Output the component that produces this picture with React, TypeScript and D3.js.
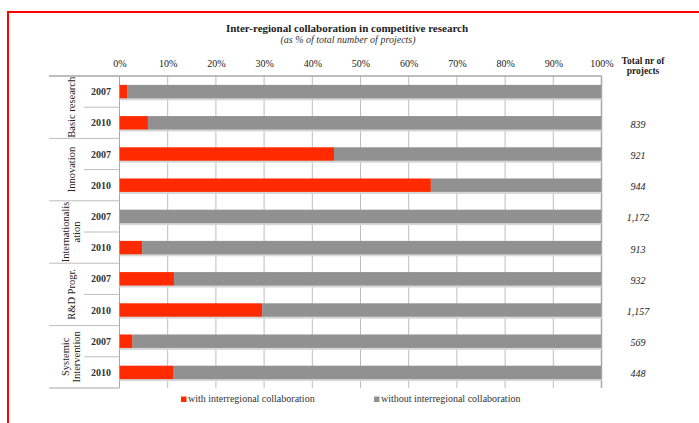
import React from 'react';
import { useRef, useEffect } from 'react';
import * as d3 from 'd3';

// group labels (split over lines as in the original), years and values
const groupLabels: string[][] = [
  ["Basic research"],
  ["Innovation"],
  ["Internationalis", "ation"],
  ["R&D Progr."],
  ["Systemic", "Intervention"],
];
const years = ["2007", "2010"];
// % of projects with interregional collaboration, row by row
const withCollab = [1.6, 5.9, 44.5, 64.6, 0, 4.7, 11.3, 29.6, 2.7, 11.1];
const totals = ["", "839", "921", "944", "1,172", "913", "932", "1,157", "569", "448"];
const tickValues = [0, 10, 20, 30, 40, 50, 60, 70, 80, 90, 100];
const seriesNames = ["with interregional collaboration", "without interregional collaboration"];

const chartStyle = {
  fontFamily: "'Liberation Serif', 'DejaVu Serif', serif",
  red: "#ff2a00",
  gray: "#919191",
  gridColor: "#bdbdbd",
  textColor: "#222",
  border: "#ff0000",
};

const App: React.FC = () => {
  const svgRef = useRef<SVGSVGElement>(null);
  const width = 699;
  const height = 423;

  useEffect(() => {
    if (!svgRef.current) return;
    const svg = d3.select(svgRef.current);
    svg.selectAll("*").remove();

    const plotLeft = 119.5, plotRight = 601.5, plotTop = 76, plotBottom = 388;
    const tableLeft = 49, yearLeft = 84;

    const rows = d3.range(withCollab.length);
    const xScale = d3.scaleLinear().domain([0, 100]).range([plotLeft, plotRight]);
    const yScale = d3.scaleBand<number>().domain(rows).range([plotTop, plotBottom]).paddingInner(0.57).paddingOuter(0.285);
    const rowBand = (plotBottom - plotTop) / rows.length;
    const rowCenter = (i: number) => yScale(i)! + yScale.bandwidth() / 2;

    // red frame
    svg.append("rect")
      .attr("x", 8).attr("y", 12)
      .attr("width", 720).attr("height", 440)
      .attr("fill", "none")
      .attr("stroke", chartStyle.border)
      .attr("stroke-width", 2);

    // title
    svg.append("text")
      .attr("x", 347).attr("y", 32)
      .attr("text-anchor", "middle")
      .style("font-family", chartStyle.fontFamily)
      .style("font-size", "11px")
      .style("font-weight", "bold")
      .attr("fill", chartStyle.textColor)
      .text("Inter-regional collaboration in competitive research");
    svg.append("text")
      .attr("x", 348).attr("y", 43)
      .attr("text-anchor", "middle")
      .style("font-family", chartStyle.fontFamily)
      .style("font-size", "10px")
      .style("font-style", "italic")
      .attr("fill", "#333")
      .text("(as % of total number of projects)");

    // x axis labels on top
    const xAxis = d3.axisTop<number>(xScale)
      .tickValues(tickValues)
      .tickSize(0)
      .tickPadding(0)
      .tickFormat(d => `${d}%`);
    svg.append("g")
      .attr("transform", `translate(0, ${plotTop - 9})`)
      .call(xAxis)
      .call(g => g.select(".domain").remove())
      .selectAll("text")
      .style("font-family", chartStyle.fontFamily)
      .style("font-size", "10px")
      .attr("fill", chartStyle.textColor);

    // gridlines
    svg.append("g").selectAll("line")
      .data(tickValues)
      .join("line")
      .attr("x1", d => xScale(d)).attr("x2", d => xScale(d))
      .attr("y1", plotTop).attr("y2", plotBottom)
      .attr("stroke", d => d === 0 || d === 100 ? "#a8a8a8" : chartStyle.gridColor)
      .attr("stroke-width", d => d === 100 ? 1.5 : 1);

    // top rule
    svg.append("line")
      .attr("x1", tableLeft).attr("x2", plotRight)
      .attr("y1", plotTop).attr("y2", plotTop)
      .attr("stroke", "#a8a8a8").attr("stroke-width", 1.5);

    // table separators
    const table = svg.append("g");
    rows.forEach(i => {
      if (i === 0) return;
      const y = plotTop + i * rowBand;
      table.append("line")
        .attr("x1", i % 2 === 0 ? tableLeft : yearLeft).attr("x2", plotLeft)
        .attr("y1", y).attr("y2", y)
        .attr("stroke", chartStyle.gridColor);
    });
    table.append("line")
      .attr("x1", tableLeft).attr("x2", plotLeft)
      .attr("y1", plotBottom).attr("y2", plotBottom)
      .attr("stroke", "#a8a8a8");

    // year labels
    svg.append("g").selectAll("text")
      .data(rows)
      .join("text")
      .attr("x", 101)
      .attr("y", i => rowCenter(i) + 3.5)
      .attr("text-anchor", "middle")
      .style("font-family", chartStyle.fontFamily)
      .style("font-size", "10px")
      .style("font-weight", "bold")
      .attr("fill", "#333")
      .text(i => years[i % 2]);

    // group labels, rotated
    groupLabels.forEach((lines, gi) => {
      const cy = plotTop + (gi * 2 + 1) * rowBand;
      const cx = 71;
      const t = svg.append("text")
        .attr("transform", `translate(${cx}, ${cy}) rotate(-90)`)
        .attr("text-anchor", "middle")
        .style("font-family", chartStyle.fontFamily)
        .style("font-size", "10.5px")
        .attr("fill", chartStyle.textColor);
      lines.forEach((ln, li) => {
        const offset = (li - (lines.length - 1) / 2) * 11.5 + 3.5;
        t.append("tspan").attr("x", 0).attr("y", offset).text(ln);
      });
    });

    // bar shadows
    svg.append("g").selectAll("rect")
      .data(rows)
      .join("rect")
      .attr("x", xScale(0))
      .attr("y", i => yScale(i)! + 2)
      .attr("width", xScale(100) - xScale(0))
      .attr("height", yScale.bandwidth())
      .attr("fill", "#d6d6d6");

    // stacked bars
    const barData = rows.map(i => ({ row: i, w: withCollab[i], wo: 100 - withCollab[i] }));
    const stack = d3.stack<{ row: number, w: number, wo: number }>().keys(["w", "wo"]);
    const series = stack(barData);
    const colors = [chartStyle.red, chartStyle.gray];
    svg.append("g").selectAll("g")
      .data(series)
      .join("g")
      .attr("fill", (_, k) => colors[k])
      .selectAll("rect")
      .data(s => s)
      .join("rect")
      .attr("x", d => xScale(d[0]))
      .attr("y", d => yScale(d.data.row)!)
      .attr("width", d => xScale(d[1]) - xScale(d[0]))
      .attr("height", yScale.bandwidth());

    // totals column
    const totalX = 643;
    const head = svg.append("text")
      .attr("text-anchor", "middle")
      .style("font-family", chartStyle.fontFamily)
      .style("font-size", "9.5px")
      .style("font-weight", "bold")
      .attr("fill", chartStyle.textColor);
    head.append("tspan").attr("x", totalX).attr("y", 64).text("Total nr of");
    head.append("tspan").attr("x", totalX).attr("y", 74).text("projects");

    svg.append("g").selectAll("text")
      .data(rows)
      .join("text")
      .attr("x", 638)
      .attr("y", i => rowCenter(i) + 5)
      .attr("text-anchor", "middle")
      .style("font-family", chartStyle.fontFamily)
      .style("font-size", "10px")
      .style("font-style", "italic")
      .attr("fill", chartStyle.textColor)
      .text(i => totals[i]);

    // legend
    const legendX = [181, 374];
    const legend = svg.append("g").selectAll("g")
      .data(seriesNames)
      .join("g")
      .attr("transform", (_, k) => `translate(${legendX[k]}, 402)`);
    legend.append("rect")
      .attr("x", 0).attr("y", -5.5)
      .attr("width", 5.5).attr("height", 5.5)
      .attr("fill", (_, k) => colors[k]);
    legend.append("text")
      .attr("x", 7).attr("y", 0)
      .style("font-family", chartStyle.fontFamily)
      .style("font-size", "10px")
      .attr("fill", "#333")
      .text(d => d);
  }, []);

  return (
    <svg ref={svgRef} width={width} height={height}
      style={{ position: "absolute", left: 0, top: 0, background: "#fff" }} />
  );
};

export default App;
